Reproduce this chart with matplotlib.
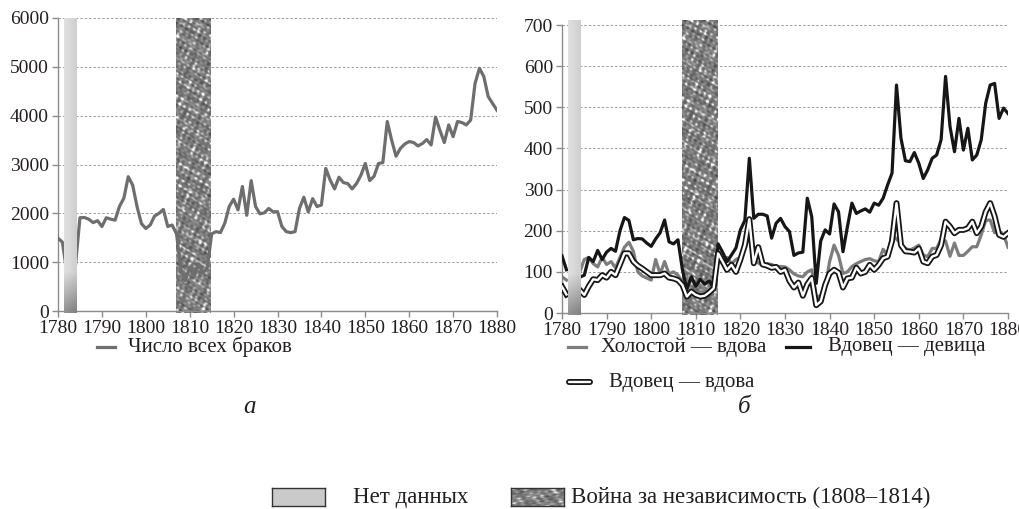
import numpy as np
import matplotlib
matplotlib.use("Agg")
import matplotlib.pyplot as plt
from matplotlib.lines import Line2D

nan = np.nan
years = list(range(1780, 1881))

# Число всех браков, 1780-1880
all_marriages = [
    1490, 1410, 800, 800, 950, 1910, 1915, 1880, 1810, 1850,
    1730, 1910, 1880, 1860, 2140, 2310, 2750, 2580, 2140, 1790,
    1690, 1760, 1945, 2000, 2080, 1730, 1760, 1580, 850, 620,
    900, 700, 960, 780, 880, 1580, 1625, 1605, 1800, 2140,
    2290, 2070, 2550, 1960, 2670, 2140, 1990, 2010, 2100, 2030,
    2035, 1730, 1625, 1605, 1625, 2100, 2330, 2030, 2300, 2140,
    2170, 2920, 2680, 2500, 2740, 2630, 2610, 2500, 2610, 2780,
    3020, 2670, 2760, 3020, 3040, 3880, 3500, 3170, 3330, 3420,
    3470, 3450, 3380, 3430, 3510, 3400, 3970, 3700, 3450, 3810,
    3570, 3880, 3860, 3810, 3910, 4660, 4970, 4800, 4390, 4250,
    4110,
]

# Холостой — вдова
bach_widow = [
    88, 80, nan, nan, 100, 130, 135, 120, 112, 135,
    118, 125, 110, 135, 160, 172, 150, 100, 90, 85,
    80, 130, 95, 125, 95, 100, 92, 75, 50, 55,
    48, 50, 45, 55, 70, 150, 125, 135, 120, 130,
    135, 160, 185, 130, 122, 115, 120, 118, 113, 113,
    112, 105, 95, 90, 88, 100, 105, 38, 42, 60,
    125, 165, 140, 96, 100, 113, 120, 125, 130, 132,
    127, 125, 155, 140, 190, 180, 168, 157, 153, 158,
    165, 141, 137, 157, 157, 180, 175, 138, 170, 140,
    140, 150, 161, 161, 190, 225, 226, 195, 200, 190,
    160,
]

# Вдовец — девица
widower_maiden = [
    139, 105, nan, nan, 87, 92, 135, 125, 152, 130,
    148, 157, 150, 200, 232, 225, 178, 181, 180, 170,
    162, 180, 195, 226, 173, 168, 178, 105, 58, 88,
    65, 82, 70, 78, 62, 168, 148, 125, 141, 158,
    202, 225, 376, 230, 240, 240, 236, 182, 218, 230,
    210, 198, 140, 146, 148, 279, 234, 72, 175, 202,
    192, 265, 246, 149, 210, 267, 242, 248, 253, 245,
    267, 262, 279, 311, 340, 554, 425, 370, 368, 390,
    364, 327, 348, 376, 384, 421, 575, 453, 392, 473,
    396, 449, 372, 384, 421, 510, 554, 558, 473, 498,
    485,
]

# Вдовец — вдова
widower_widow = [
    64, 45, nan, nan, 56, 44, 65, 82, 80, 92,
    86, 100, 92, 118, 145, 145, 125, 115, 108, 100,
    92, 92, 92, 96, 86, 84, 80, 68, 40, 52,
    44, 40, 42, 50, 60, 145, 125, 105, 117, 100,
    130, 165, 228, 121, 160, 118, 115, 110, 112, 100,
    105, 78, 62, 74, 42, 70, 85, 19, 28, 68,
    96, 105, 98, 62, 84, 86, 110, 96, 100, 117,
    105, 117, 133, 137, 175, 267, 165, 150, 149, 147,
    157, 125, 121, 137, 141, 165, 222, 210, 194, 202,
    202, 206, 222, 194, 210, 246, 267, 235, 190, 185,
    194,
]

no_data = (1781.3, 1784.1)
war = (1806.9, 1814.8)

plt.rcParams["font.family"] = ["Liberation Serif", "DejaVu Serif"]
TXT = "#231f20"

fig = plt.figure(figsize=(10.2, 5.09), dpi=100)


def fx(px):
    return px / 1020


def fy(py):
    return 1 - py / 509


# fills for the two bands
gi, gj = np.mgrid[0:60, 0:20]
nodata_img = 0.88 - 0.07 * (gj / 19.0) - 0.30 * np.clip((8 - gi) / 8.0, 0, 1)

wi, wj = np.mgrid[0:300, 0:36]
waves = [(0.83, 0.41, 0.3), (-0.52, 0.97, 1.7), (0.31, -1.21, 2.9),
         (1.13, 0.67, 4.1), (-0.91, -0.38, 0.8), (0.47, 1.33, 5.3),
         (1.41, -0.29, 3.7), (-0.23, 0.71, 2.2), (0.29, 0.19, 1.1),
         (-0.17, 0.37, 4.6), (0.61, -0.73, 0.5), (1.67, 1.09, 2.6)]
t = sum(np.sin(a * wi + b * wj + c) for a, b, c in waves)
war_img = 0.50 + 0.03 * t + 0.09 * np.clip(t - 1.8, 0, None)


def style_axes(ax, ymax, ystep):
    ax.set_xlim(1780, 1880)
    ax.set_ylim(0, ymax)
    ax.set_xticks(range(1780, 1881, 10))
    ax.set_yticks(range(0, ymax + 1, ystep))
    ax.yaxis.grid(True, linestyle=(0, (2.5, 2)), color="#9a9a9a", linewidth=0.7)
    ax.set_axisbelow(True)
    for s in ["top", "right"]:
        ax.spines[s].set_visible(False)
    for s in ["left", "bottom"]:
        ax.spines[s].set_color("#8c8c8c")
        ax.spines[s].set_linewidth(1.0)
    ax.tick_params(axis="both", colors="#8c8c8c", labelcolor=TXT,
                   labelsize=14, length=4, width=1.0, pad=2.5)


def draw_bands(ax, top, bottom):
    ax.imshow(war_img, cmap="gray", vmin=0, vmax=1, origin="lower",
              extent=(war[0], war[1], bottom, top), aspect="auto",
              interpolation="bilinear", zorder=1, clip_on=False)
    ax.imshow(nodata_img, cmap="gray", vmin=0, vmax=1, origin="lower",
              extent=(no_data[0], no_data[1], bottom, top), aspect="auto",
              interpolation="bilinear", zorder=4, clip_on=False)


# --- а ---
ax1 = fig.add_axes([fx(58), fy(311), fx(497) - fx(58), fy(18) - fy(311)])
draw_bands(ax1, 6000, -40)
ax1.plot(years, all_marriages, color="#6e6e6e", lw=2.3, zorder=3)
style_axes(ax1, 6000, 1000)

# --- б ---
ax2 = fig.add_axes([fx(562), fy(313), fx(1008) - fx(562), fy(25) - fy(313)])
draw_bands(ax2, 712, -4)
ax2.plot(years, bach_widow, color="#7d7d7d", lw=2.3, zorder=3)
ax2.plot(years, widower_maiden, color="#161616", lw=2.3, zorder=3)
ax2.plot(years, widower_widow, color="#161616", lw=4.3, zorder=3)
ax2.plot(years, widower_widow, color="white", lw=1.7, zorder=3)
style_axes(ax2, 700, 100)


def legline(x0, x1, y, double=False, color="#6e6e6e"):
    xs, ys = [fx(x0), fx(x1)], [fy(y), fy(y)]
    if double:
        fig.add_artist(Line2D(xs, ys, color="#161616", lw=4.3, solid_capstyle="round"))
        fig.add_artist(Line2D(xs, ys, color="white", lw=1.7, solid_capstyle="round"))
    else:
        fig.add_artist(Line2D(xs, ys, color=color, lw=2.3))


fs = 15
ly = 347
legline(97, 115, ly, color="#6e6e6e")
fig.text(fx(128), fy(ly), "Число всех браков", fontsize=fs, color=TXT, va="center")

legline(568, 586, ly, color="#7d7d7d")
fig.text(fx(601), fy(ly), "Холостой — вдова", fontsize=fs, color=TXT, va="center")
legline(786, 810, ly, color="#161616")
fig.text(fx(828), fy(ly), "Вдовец — девица", fontsize=fs, color=TXT, va="center")
legline(569, 590, 382, double=True)
fig.text(fx(609), fy(382), "Вдовец — вдова", fontsize=fs, color=TXT, va="center")

fig.text(fx(250), fy(407), "а", fontsize=18, style="italic", color=TXT, ha="center", va="center")
fig.text(fx(744), fy(407), "б", fontsize=18, style="italic", color=TXT, ha="center", va="center")

# bottom key
k1 = fig.add_axes([fx(272), fy(506), fx(325) - fx(272), fy(488) - fy(506)])
k1.set_facecolor("#cacaca")
k2 = fig.add_axes([fx(511), fy(506), fx(564) - fx(511), fy(488) - fy(506)])
k2.imshow(war_img[:30, :], cmap="gray", vmin=0, vmax=1, aspect="auto",
          interpolation="bilinear")
for k in (k1, k2):
    k.set_xticks([])
    k.set_yticks([])
    for s in k.spines.values():
        s.set_color("#333333")
        s.set_linewidth(1.0)
fig.text(fx(353), fy(497), "Нет данных", fontsize=16.5, color=TXT, va="center")
fig.text(fx(571), fy(497), "Война за независимость (1808–1814)", fontsize=16.5,
         color=TXT, va="center")

fig.savefig("out.png", dpi=100)
